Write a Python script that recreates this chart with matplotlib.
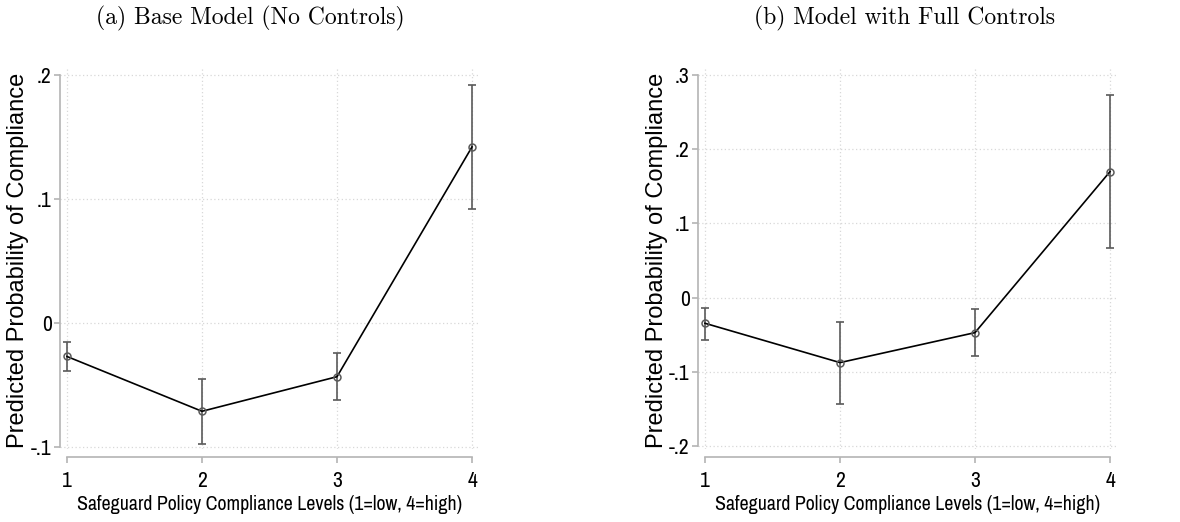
import matplotlib
matplotlib.use("Agg")
import matplotlib.pyplot as plt
from matplotlib import font_manager

# ---- data ----
levels = [1, 2, 3, 4]
tick_labels = ["1", "2", "3", "4"]

base_est = [-0.027, -0.0712, -0.0433, 0.142]
base_lo = [-0.039, -0.0976, -0.062, 0.092]
base_hi = [-0.0156, -0.045, -0.024, 0.192]
base_yticks = [-0.1, 0.0, 0.1, 0.2]
base_yticklabels = ["-.1", "0", ".1", ".2"]

full_est = [-0.0346, -0.0876, -0.0472, 0.1698]
full_lo = [-0.057, -0.1437, -0.0786, 0.0674]
full_hi = [-0.0144, -0.0323, -0.0157, 0.273]
full_yticks = [-0.2, -0.1, 0.0, 0.1, 0.2, 0.3]
full_yticklabels = ["-.2", "-.1", "0", ".1", ".2", ".3"]

titles = ["(a) Base Model (No Controls)", "(b) Model with Full Controls"]
xlabel = "Safeguard Policy Compliance Levels (1=low, 4=high)"
ylabel = "Predicted Probability of Compliance"

# ---- fonts ----
names = {f.name for f in font_manager.fontManager.ttflist}
narrow = "Archivo Narrow" if "Archivo Narrow" in names else "Liberation Sans"
regular = "Liberation Sans" if "Liberation Sans" in names else "DejaVu Sans"
serif = "cmr10" if "cmr10" in names else "DejaVu Serif"

W, H = 1180, 522
fig = plt.figure(figsize=(W / 100, H / 100), dpi=100)

AX_TOP, AX_BOT = 67, 449


def px_axes(x0, x1):
    return fig.add_axes([x0 / W, 1 - AX_BOT / H, (x1 - x0) / W, (AX_BOT - AX_TOP) / H])


def panel(ax, x0, x1, est, lo, hi, yticks, yticklabels, ylim, xlim, title, title_x, ylab_x):
    # spine placement first (set_position resets the ticks)
    for s in ["top", "right"]:
        ax.spines[s].set_visible(False)
    ax.spines["bottom"].set_position(("outward", 5.8))

    err_lo = [e - l for e, l in zip(est, lo)]
    err_hi = [h - e for e, h in zip(est, hi)]
    ax.errorbar(levels, est, yerr=[err_lo, err_hi], fmt="none", ecolor="#5a5a5a",
                elinewidth=1.2, capsize=2.8, capthick=1.2, zorder=3)
    ax.plot(levels, est, color="black", lw=1.2, zorder=4)
    ax.plot(levels, est, ls="none", marker="o", ms=5, mfc="none", mec="#5a5a5a",
            mew=1.1, zorder=5)
    ax.set_xlim(*xlim)
    ax.set_ylim(*ylim)
    ax.set_xticks(levels)
    ax.set_xticklabels(tick_labels)
    ax.set_yticks(yticks)
    ax.set_yticklabels(yticklabels)
    ax.tick_params(axis="both", colors="#b4b4b4", length=4, width=1.2, labelcolor="black",
                   labelsize=15.5, labelfontfamily=narrow)
    ax.tick_params(axis="x", pad=6)
    ax.tick_params(axis="y", pad=2)
    ax.grid(True, color="#d8d8d8", ls=(0, (1, 2)), lw=0.9)
    ax.set_axisbelow(True)
    ax.spines["left"].set_bounds(yticks[0], yticks[-1])
    ax.spines["bottom"].set_bounds(levels[0], levels[-1])
    for s in ["left", "bottom"]:
        ax.spines[s].set_color("#b4b4b4")
        ax.spines[s].set_linewidth(1.2)
    w = x1 - x0
    h = AX_BOT - AX_TOP
    ax.set_xlabel(xlabel, fontfamily=narrow, fontsize=14.3)
    ax.xaxis.set_label_coords(0.5, (AX_BOT - 505) / h)
    ax.xaxis.label.set_va("center")
    ax.set_ylabel(ylabel, fontfamily=regular, fontsize=17)
    ax.yaxis.set_label_coords((ylab_x - x0) / w, (AX_BOT - 260) / h)
    ax.yaxis.label.set_va("center")
    ax.yaxis.label.set_ha("center")
    fig.text(title_x / W, 1 - 18 / H, title, ha="center", va="center",
             fontfamily=serif, fontsize=17)


u = 135.0  # px per level
ax1 = px_axes(60, 479)
panel(ax1, 60, 479, base_est, base_lo, base_hi, base_yticks, base_yticklabels,
      (-0.1 - 2 * 0.3 / 372, 0.2 + 8 * 0.3 / 372), (1 - 7 / u, 4 + 7 / u),
      titles[0], 250, 18)

ax2 = px_axes(698, 1117)
panel(ax2, 698, 1117, full_est, full_lo, full_hi, full_yticks, full_yticklabels,
      (-0.2 - 3 * 0.5 / 371, 0.3 + 8 * 0.5 / 371), (1 - 7 / u, 4 + 7 / u),
      titles[1], 905, 657)

fig.savefig("out.png", dpi=100, facecolor="white")
